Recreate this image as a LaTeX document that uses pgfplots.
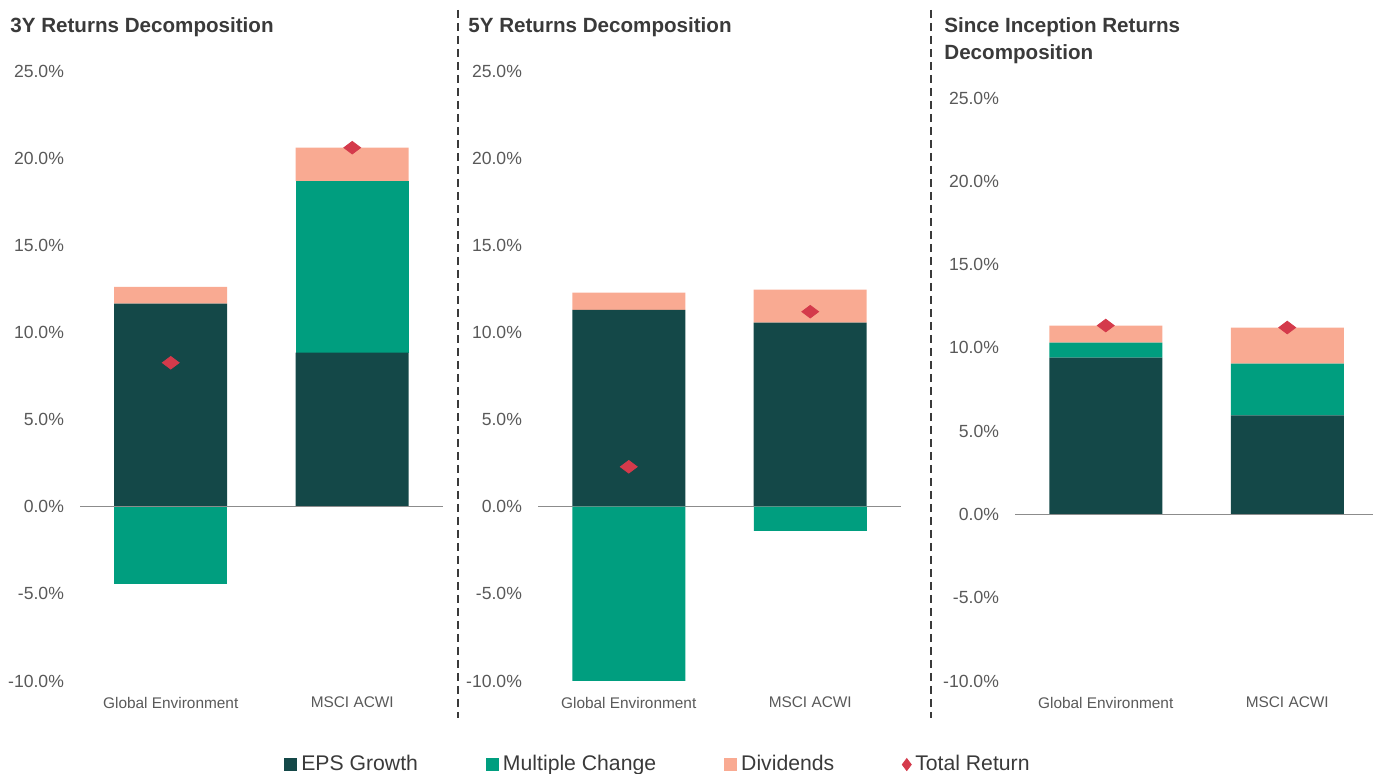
\documentclass[border=0pt]{standalone}
\usepackage{fontspec}
\setmainfont{Liberation Sans}
\usepackage{pgfplots}
\pgfplotsset{compat=1.18}
\definecolor{eps}{HTML}{144848}
\definecolor{mult}{HTML}{009E7F}
\definecolor{divc}{HTML}{F9AA92}
\definecolor{trc}{HTML}{D43A4B}
\definecolor{tickgray}{HTML}{595959}
\definecolor{titlec}{HTML}{3A3A3A}
\definecolor{zerogray}{HTML}{8C8C8C}
\pgfplotsset{
  panel/.style={scale only axis, width=181.5pt, xmin=-0.5, xmax=1.5, ymin=-10, ymax=25, clip=false},
  visaxis/.style={panel, ybar stacked, bar width=56.5pt,
    axis line style={draw=none}, major tick length=0pt,
    xtick={0,1}, xticklabels={Global Environment, MSCI ACWI},
    ytick={-10,-5,...,25},
    /pgf/number format/assume math mode=true,
    yticklabel={\pgfmathprintnumber[fixed,fixed zerofill,precision=1]{\tick}\%},
    yticklabel style={font=\fontsize{8.8}{10}\selectfont, text=tickgray, xshift=-4.5pt},
    xticklabel style={font=\fontsize{7.7}{9}\selectfont, text=tickgray, yshift=-4.5pt}},
  sqleg/.style={legend image code/.code={\fill[##1] (0pt,-3.25pt) rectangle (6.5pt,3.25pt);}},
  dmleg/.style={legend image code/.code={\draw[##1] plot coordinates {(3pt,0pt)};}},
}
\begin{document}
\begin{tikzpicture}
\path[use as bounding box] (0,0) rectangle (686.5pt,-387pt);
% ---------- Panel 1 ----------
\begin{axis}[visaxis, height=305pt, at={(40pt,-340.5pt)}, anchor=south west,
  legend columns=4,
  legend style={at={(1.595,-0.137)}, anchor=center, draw=none, fill=none,
    font=\fontsize{10.6}{12}\selectfont, text=titlec,
    /tikz/every even column/.append style={column sep=32pt}}]
\addplot[fill=eps, draw=none, sqleg] coordinates {(0,11.65) (1,8.84)};
\addlegendentry{EPS Growth}
\addplot[fill=mult, draw=none, sqleg] coordinates {(0,0) (1,9.86)};
\addlegendentry{Multiple Change}
\addplot[fill=divc, draw=none, sqleg] coordinates {(0,0.97) (1,1.90)};
\addlegendentry{Dividends}
\addlegendimage{only marks, mark=diamond*, mark size=3pt, color=trc, dmleg}
\addlegendentry{Total Return}
\end{axis}
\begin{axis}[panel, hide axis, height=305pt, at={(40pt,-340.5pt)}, anchor=south west]
\draw[zerogray, line width=0.6pt] (axis cs:-0.5,0) -- (axis cs:1.5,0);
\addplot[ybar, bar width=56.5pt, bar shift=0pt, fill=mult, draw=none] coordinates {(0,-4.42)};
\addplot[only marks, mark=diamond*, mark size=4.2pt, color=trc, mark options={rotate=90}] coordinates {(0,8.26) (1,20.6)};
\end{axis}
% ---------- Panel 2 ----------
\begin{axis}[visaxis, height=305pt, at={(269pt,-340.5pt)}, anchor=south west]
\addplot[fill=eps, draw=none] coordinates {(0,11.30) (1,10.56)};
\addplot[fill=mult, draw=none] coordinates {(0,0) (1,0)};
\addplot[fill=divc, draw=none] coordinates {(0,0.98) (1,1.89)};
\end{axis}
\begin{axis}[panel, hide axis, height=305pt, at={(269pt,-340.5pt)}, anchor=south west]
\draw[zerogray, line width=0.6pt] (axis cs:-0.5,0) -- (axis cs:1.5,0);
\addplot[ybar, bar width=56.5pt, bar shift=0pt, fill=mult, draw=none] coordinates {(0,-10.0) (1,-1.38)};
\addplot[only marks, mark=diamond*, mark size=4.2pt, color=trc, mark options={rotate=90}] coordinates {(0,2.29) (1,11.19)};
\end{axis}
% ---------- Panel 3 ----------
\begin{axis}[visaxis, height=291.5pt, at={(507.5pt,-340.5pt)}, anchor=south west]
\addplot[fill=eps, draw=none] coordinates {(0,9.42) (1,5.94)};
\addplot[fill=mult, draw=none] coordinates {(0,0.90) (1,3.12)};
\addplot[fill=divc, draw=none] coordinates {(0,1.02) (1,2.16)};
\end{axis}
\begin{axis}[panel, hide axis, height=291.5pt, at={(507.5pt,-340.5pt)}, anchor=south west]
\draw[zerogray, line width=0.6pt] (axis cs:-0.5,0) -- (axis cs:1.5,0);
\addplot[only marks, mark=diamond*, mark size=4.2pt, color=trc, mark options={rotate=90}] coordinates {(0,11.34) (1,11.22)};
\end{axis}
% ---------- Titles and separators ----------
\node[anchor=west, inner sep=0pt, text=titlec, font=\bfseries\fontsize{10.3}{12}\selectfont] at (5pt,-13.5pt) {3Y Returns Decomposition};
\node[anchor=west, inner sep=0pt, text=titlec, font=\bfseries\fontsize{10.3}{12}\selectfont] at (234pt,-13.5pt) {5Y Returns Decomposition};
\node[anchor=west, inner sep=0pt, text=titlec, font=\bfseries\fontsize{10.3}{12}\selectfont] at (472pt,-13.5pt) {Since Inception Returns};
\node[anchor=west, inner sep=0pt, text=titlec, font=\bfseries\fontsize{10.3}{12}\selectfont] at (472pt,-27pt) {Decomposition};
\draw[titlec, line width=0.8pt, dash pattern=on 4pt off 2.5pt] (229pt,-5pt) -- (229pt,-359pt);
\draw[titlec, line width=0.8pt, dash pattern=on 4pt off 2.5pt] (465.5pt,-5pt) -- (465.5pt,-359pt);
\end{tikzpicture}
\end{document}
